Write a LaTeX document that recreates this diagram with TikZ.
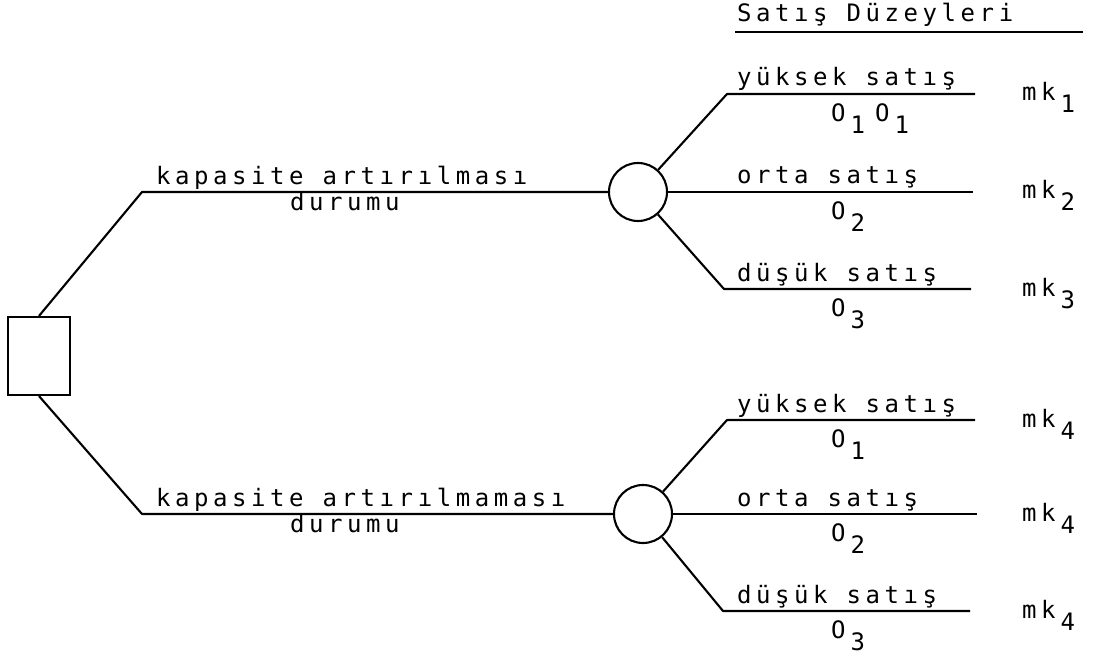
\documentclass[tikz,border=0pt]{standalone}
\usepackage{fontspec}
% wide-set typewriter lettering
\newfontfamily\prfont[LetterSpace=19]{DejaVu Sans Mono}
\newcommand\lo[1]{\raisebox{-12pt}{#1}}
\newcommand\gap{\hspace{5pt}}
\begin{document}
\begin{tikzpicture}[x=1pt,y=-1pt,
  wire/.style={line width=2.1pt, line join=round},
  lbl/.style={anchor=base west, inner sep=0pt, font=\prfont\fontsize{24}{28}\selectfont},
  chance/.style={circle, draw, line width=2.1pt, minimum size=58pt, inner sep=0pt},
  decision/.style={rectangle, draw, line width=2.1pt, minimum width=62pt, minimum height=78pt, inner sep=0pt}]
\useasboundingbox (0,0) rectangle (1093,658);

% decision and chance nodes
\node[decision] (sq) at (39,356) {};
\node[chance] (n1) at (638,192) {};
\node[chance] (n2) at (643,514) {};

% bends and ends of the branches
\coordinate (c1) at (142,192);
\coordinate (c2) at (142,514);
\coordinate (b1) at (727,94);   \coordinate (e1) at (975,94);
\coordinate (e2) at (973,192);
\coordinate (b3) at (724,289);  \coordinate (e3) at (971,289);
\coordinate (b4) at (727,420);  \coordinate (e4) at (975,420);
\coordinate (e5) at (977,514);
\coordinate (b6) at (723,611);  \coordinate (e6) at (970,611);
\coordinate (u1) at (735,32);   \coordinate (u2) at (1083,32);

% connectors
\draw[wire] (sq.north) -- (c1) -- (n1);
\draw[wire] (sq.south) -- (c2) -- (n2);
\draw[wire] (n1) -- (b1) -- (e1);
\draw[wire] (n1) -- (e2);
\draw[wire] (n1) -- (b3) -- (e3);
\draw[wire] (n2) -- (b4) -- (e4);
\draw[wire] (n2) -- (e5);
\draw[wire] (n2) -- (b6) -- (e6);
\draw[line width=1.8pt] (u1) -- (u2);

% heading
\node[lbl] (hd) at (737,22) {Satış Düzeyleri};

% alternatives
\node[lbl] (a1) at (156,185) {kapasite artırılması};
\node[lbl] (a1b) at (290,211) {durumu};
\node[lbl] (a2) at (156,506) {kapasite artırılmaması};
\node[lbl] (a2b) at (290,532) {durumu};

% sales levels
\node[lbl] (s1) at (737,86) {yüksek satış};
\node[lbl] (s2) at (737,183) {orta satış};
\node[lbl] (s3) at (737,281) {düşük satış};
\node[lbl] (s4) at (737,412) {yüksek satış};
\node[lbl] (s5) at (737,506) {orta satış};
\node[lbl] (s6) at (737,603) {düşük satış};

% outcomes
\node[lbl] (o1) at (831,122) {O\gap\lo{1}\hspace{10pt}O\gap\lo{1}};
\node[lbl] (o2) at (831,219) {O\gap\lo{2}};
\node[lbl] (o3) at (831,316) {O\gap\lo{3}};
\node[lbl] (o4) at (831,447) {O\gap\lo{1}};
\node[lbl] (o5) at (831,541) {O\gap\lo{2}};
\node[lbl] (o6) at (831,638) {O\gap\lo{3}};

% payoffs
\node[lbl] (m1) at (1022,101) {mk\gap\lo{1}};
\node[lbl] (m2) at (1022,199) {mk\gap\lo{2}};
\node[lbl] (m3) at (1022,296) {mk\gap\lo{3}};
\node[lbl] (m4) at (1022,427) {mk\gap\lo{4}};
\node[lbl] (m5) at (1022,521) {mk\gap\lo{4}};
\node[lbl] (m6) at (1022,618) {mk\gap\lo{4}};
\end{tikzpicture}
\end{document}
